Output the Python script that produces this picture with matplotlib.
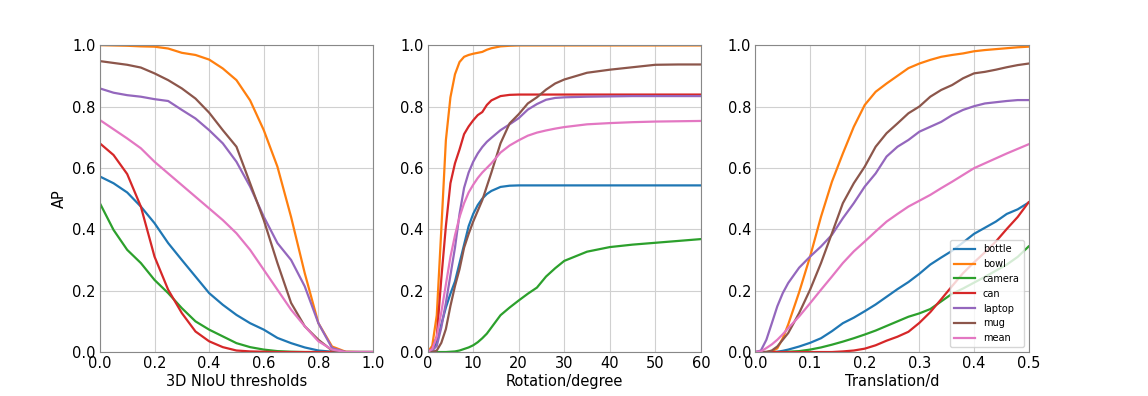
import matplotlib
matplotlib.use("Agg")
import matplotlib.pyplot as plt

names = ["bottle", "bowl", "camera", "can", "laptop", "mug", "mean"]

# panel 1: AP vs 3D NIoU threshold
iou_x = [0, 0.05, 0.1, 0.15, 0.2, 0.25, 0.3, 0.35, 0.4, 0.45, 0.5,
         0.55, 0.6, 0.65, 0.7, 0.75, 0.8, 0.85, 0.9, 0.95, 1.0]
iou_bottle = [0.572, 0.55, 0.52, 0.474, 0.42, 0.355, 0.30, 0.246, 0.192, 0.154, 0.121,
              0.094, 0.073, 0.046, 0.029, 0.015, 0.005, 0.001, 0, 0, 0]
iou_bowl = [1.0, 0.999, 0.998, 0.996, 0.995, 0.989, 0.975, 0.968, 0.953, 0.924, 0.886,
            0.82, 0.723, 0.604, 0.44, 0.257, 0.094, 0.018, 0.001, 0, 0]
iou_camera = [0.485, 0.398, 0.333, 0.29, 0.235, 0.192, 0.143, 0.10, 0.073, 0.051, 0.029,
              0.016, 0.008, 0.003, 0.001, 0, 0, 0, 0, 0, 0]
iou_can = [0.68, 0.642, 0.58, 0.474, 0.311, 0.203, 0.127, 0.067, 0.035, 0.016, 0.005,
           0.002, 0.001, 0, 0, 0, 0, 0, 0, 0, 0]
iou_laptop = [0.859, 0.845, 0.837, 0.832, 0.824, 0.818, 0.789, 0.761, 0.723, 0.68, 0.62,
              0.539, 0.441, 0.355, 0.30, 0.214, 0.094, 0.013, 0, 0, 0]
iou_mug = [0.948, 0.942, 0.936, 0.927, 0.908, 0.886, 0.859, 0.826, 0.78, 0.723, 0.669,
           0.55, 0.43, 0.29, 0.16, 0.084, 0.04, 0.005, 0, 0, 0]
iou_mean = [0.756, 0.726, 0.696, 0.664, 0.62, 0.582, 0.544, 0.506, 0.468, 0.43, 0.387,
            0.333, 0.268, 0.203, 0.138, 0.084, 0.035, 0.008, 0, 0, 0]

# panel 2: AP vs rotation error
rot_x = [0, 1, 2, 3, 4, 5, 6, 7, 8, 9, 10, 11, 12, 13, 14, 16, 18, 20,
         22, 24, 26, 28, 30, 35, 40, 45, 50, 55, 60]
rot_bottle = [0, 0.005, 0.03, 0.09, 0.145, 0.19, 0.23, 0.29, 0.35, 0.41, 0.45, 0.479, 0.5,
              0.515, 0.525, 0.538, 0.542, 0.543, 0.543, 0.543, 0.543, 0.543, 0.543, 0.543,
              0.543, 0.543, 0.543, 0.543, 0.543]
rot_bowl = [0, 0.02, 0.12, 0.4, 0.69, 0.83, 0.905, 0.945, 0.962, 0.968, 0.972, 0.975, 0.978,
            0.985, 0.99, 0.996, 0.998, 0.999, 0.999, 0.999, 0.999, 0.999, 0.999, 0.999,
            0.999, 0.999, 0.999, 0.999, 0.999]
rot_camera = [0, 0, 0, 0, 0, 0.001, 0.002, 0.005, 0.01, 0.015, 0.022, 0.032, 0.045, 0.06,
              0.08, 0.12, 0.145, 0.168, 0.19, 0.21, 0.246, 0.273, 0.297, 0.327, 0.342,
              0.35, 0.356, 0.362, 0.368]
rot_can = [0, 0.01, 0.05, 0.24, 0.41, 0.55, 0.615, 0.66, 0.71, 0.735, 0.755, 0.772, 0.782,
           0.805, 0.82, 0.834, 0.838, 0.839, 0.839, 0.839, 0.839, 0.839, 0.839, 0.839,
           0.839, 0.839, 0.839, 0.839, 0.839]
rot_laptop = [0, 0.005, 0.02, 0.08, 0.16, 0.25, 0.34, 0.45, 0.535, 0.585, 0.62, 0.647, 0.668,
              0.685, 0.698, 0.723, 0.742, 0.762, 0.79, 0.808, 0.822, 0.828, 0.83, 0.832,
              0.833, 0.834, 0.834, 0.834, 0.834]
rot_mug = [0, 0, 0.005, 0.03, 0.075, 0.15, 0.215, 0.27, 0.34, 0.385, 0.425, 0.46, 0.495,
           0.54, 0.585, 0.68, 0.745, 0.775, 0.81, 0.83, 0.855, 0.875, 0.888, 0.91, 0.92,
           0.928, 0.936, 0.937, 0.937]
rot_mean = [0, 0.01, 0.05, 0.13, 0.22, 0.31, 0.38, 0.44, 0.485, 0.52, 0.545, 0.567, 0.585,
            0.6, 0.615, 0.65, 0.673, 0.69, 0.705, 0.715, 0.722, 0.728, 0.733, 0.742, 0.746,
            0.749, 0.751, 0.752, 0.753]

# panel 3: AP vs translation error
tr_x = [0, 0.01, 0.02, 0.03, 0.04, 0.05, 0.06, 0.08, 0.1, 0.12, 0.14, 0.16, 0.18, 0.2,
        0.22, 0.24, 0.26, 0.28, 0.3, 0.32, 0.34, 0.36, 0.38, 0.4, 0.42, 0.44, 0.46, 0.48, 0.5]
tr_bottle = [0, 0, 0, 0, 0.001, 0.004, 0.008, 0.018, 0.03, 0.045, 0.068, 0.094, 0.112, 0.133,
             0.155, 0.18, 0.205, 0.228, 0.255, 0.285, 0.308, 0.33, 0.357, 0.385, 0.405,
             0.425, 0.45, 0.465, 0.487]
tr_bowl = [0, 0, 0, 0.003, 0.012, 0.045, 0.09, 0.195, 0.311, 0.441, 0.555, 0.647, 0.734,
           0.805, 0.848, 0.875, 0.9, 0.925, 0.94, 0.952, 0.962, 0.968, 0.973, 0.98, 0.984,
           0.987, 0.99, 0.993, 0.995]
tr_camera = [0, 0, 0, 0, 0, 0, 0.001, 0.003, 0.008, 0.015, 0.024, 0.034, 0.045, 0.057, 0.07,
             0.085, 0.1, 0.115, 0.126, 0.14, 0.165, 0.19, 0.207, 0.226, 0.245, 0.265, 0.285,
             0.31, 0.344]
tr_can = [0, 0, 0, 0, 0, 0, 0, 0, 0, 0, 0, 0.002, 0.005, 0.011, 0.022, 0.037, 0.05, 0.066,
          0.095, 0.13, 0.172, 0.215, 0.257, 0.292, 0.325, 0.36, 0.401, 0.44, 0.488]
tr_laptop = [0, 0.005, 0.04, 0.094, 0.149, 0.192, 0.225, 0.275, 0.311, 0.344, 0.382, 0.436,
             0.485, 0.539, 0.582, 0.637, 0.669, 0.691, 0.718, 0.734, 0.75, 0.772, 0.789,
             0.801, 0.81, 0.814, 0.818, 0.821, 0.821]
tr_mug = [0, 0, 0, 0.005, 0.018, 0.04, 0.062, 0.127, 0.203, 0.29, 0.387, 0.485, 0.55, 0.604,
          0.669, 0.713, 0.745, 0.778, 0.80, 0.832, 0.854, 0.87, 0.892, 0.908, 0.913, 0.92,
          0.928, 0.935, 0.94]
tr_mean = [0, 0.002, 0.013, 0.025, 0.04, 0.058, 0.078, 0.116, 0.159, 0.203, 0.246, 0.29,
           0.328, 0.36, 0.393, 0.425, 0.45, 0.474, 0.493, 0.512, 0.534, 0.555, 0.577, 0.599,
           0.615, 0.631, 0.647, 0.662, 0.677]

panels = [
    (iou_x, [iou_bottle, iou_bowl, iou_camera, iou_can, iou_laptop, iou_mug, iou_mean],
     "3D NIoU thresholds", (0, 1.0), [0, 0.2, 0.4, 0.6, 0.8, 1.0]),
    (rot_x, [rot_bottle, rot_bowl, rot_camera, rot_can, rot_laptop, rot_mug, rot_mean],
     "Rotation/degree", (0, 60), [0, 10, 20, 30, 40, 50, 60]),
    (tr_x, [tr_bottle, tr_bowl, tr_camera, tr_can, tr_laptop, tr_mug, tr_mean],
     "Translation/d", (0, 0.5), [0, 0.1, 0.2, 0.3, 0.4, 0.5]),
]

fig, axes = plt.subplots(1, 3, figsize=(11.48, 3.96), dpi=100)
fig.subplots_adjust(left=0.087, right=0.896, bottom=0.111, top=0.886, wspace=0.2)

for i, (ax, (xs, ys, xlabel, xlim, xticks)) in enumerate(zip(axes, panels)):
    for name, y in zip(names, ys):
        ax.plot(xs, y, lw=1.6, label=name)
    ax.set_xlim(*xlim)
    ax.set_ylim(0, 1.0)
    ax.set_xticks(xticks)
    ax.set_yticks([0, 0.2, 0.4, 0.6, 0.8, 1.0])
    ax.grid(True, color="#d0d0d0", lw=0.8)
    ax.set_axisbelow(True)
    ax.set_xlabel(xlabel, fontsize=10.5, labelpad=2)
    ax.tick_params(labelsize=10.5, length=0, pad=3)
    for s in ax.spines.values():
        s.set_color("#888888")
    if i == 0:
        ax.set_ylabel("AP", fontsize=10.5)
    if i == 2:
        ax.legend(loc="lower right", fontsize=7, handlelength=2.2)

plt.savefig("out.png", dpi=100)
